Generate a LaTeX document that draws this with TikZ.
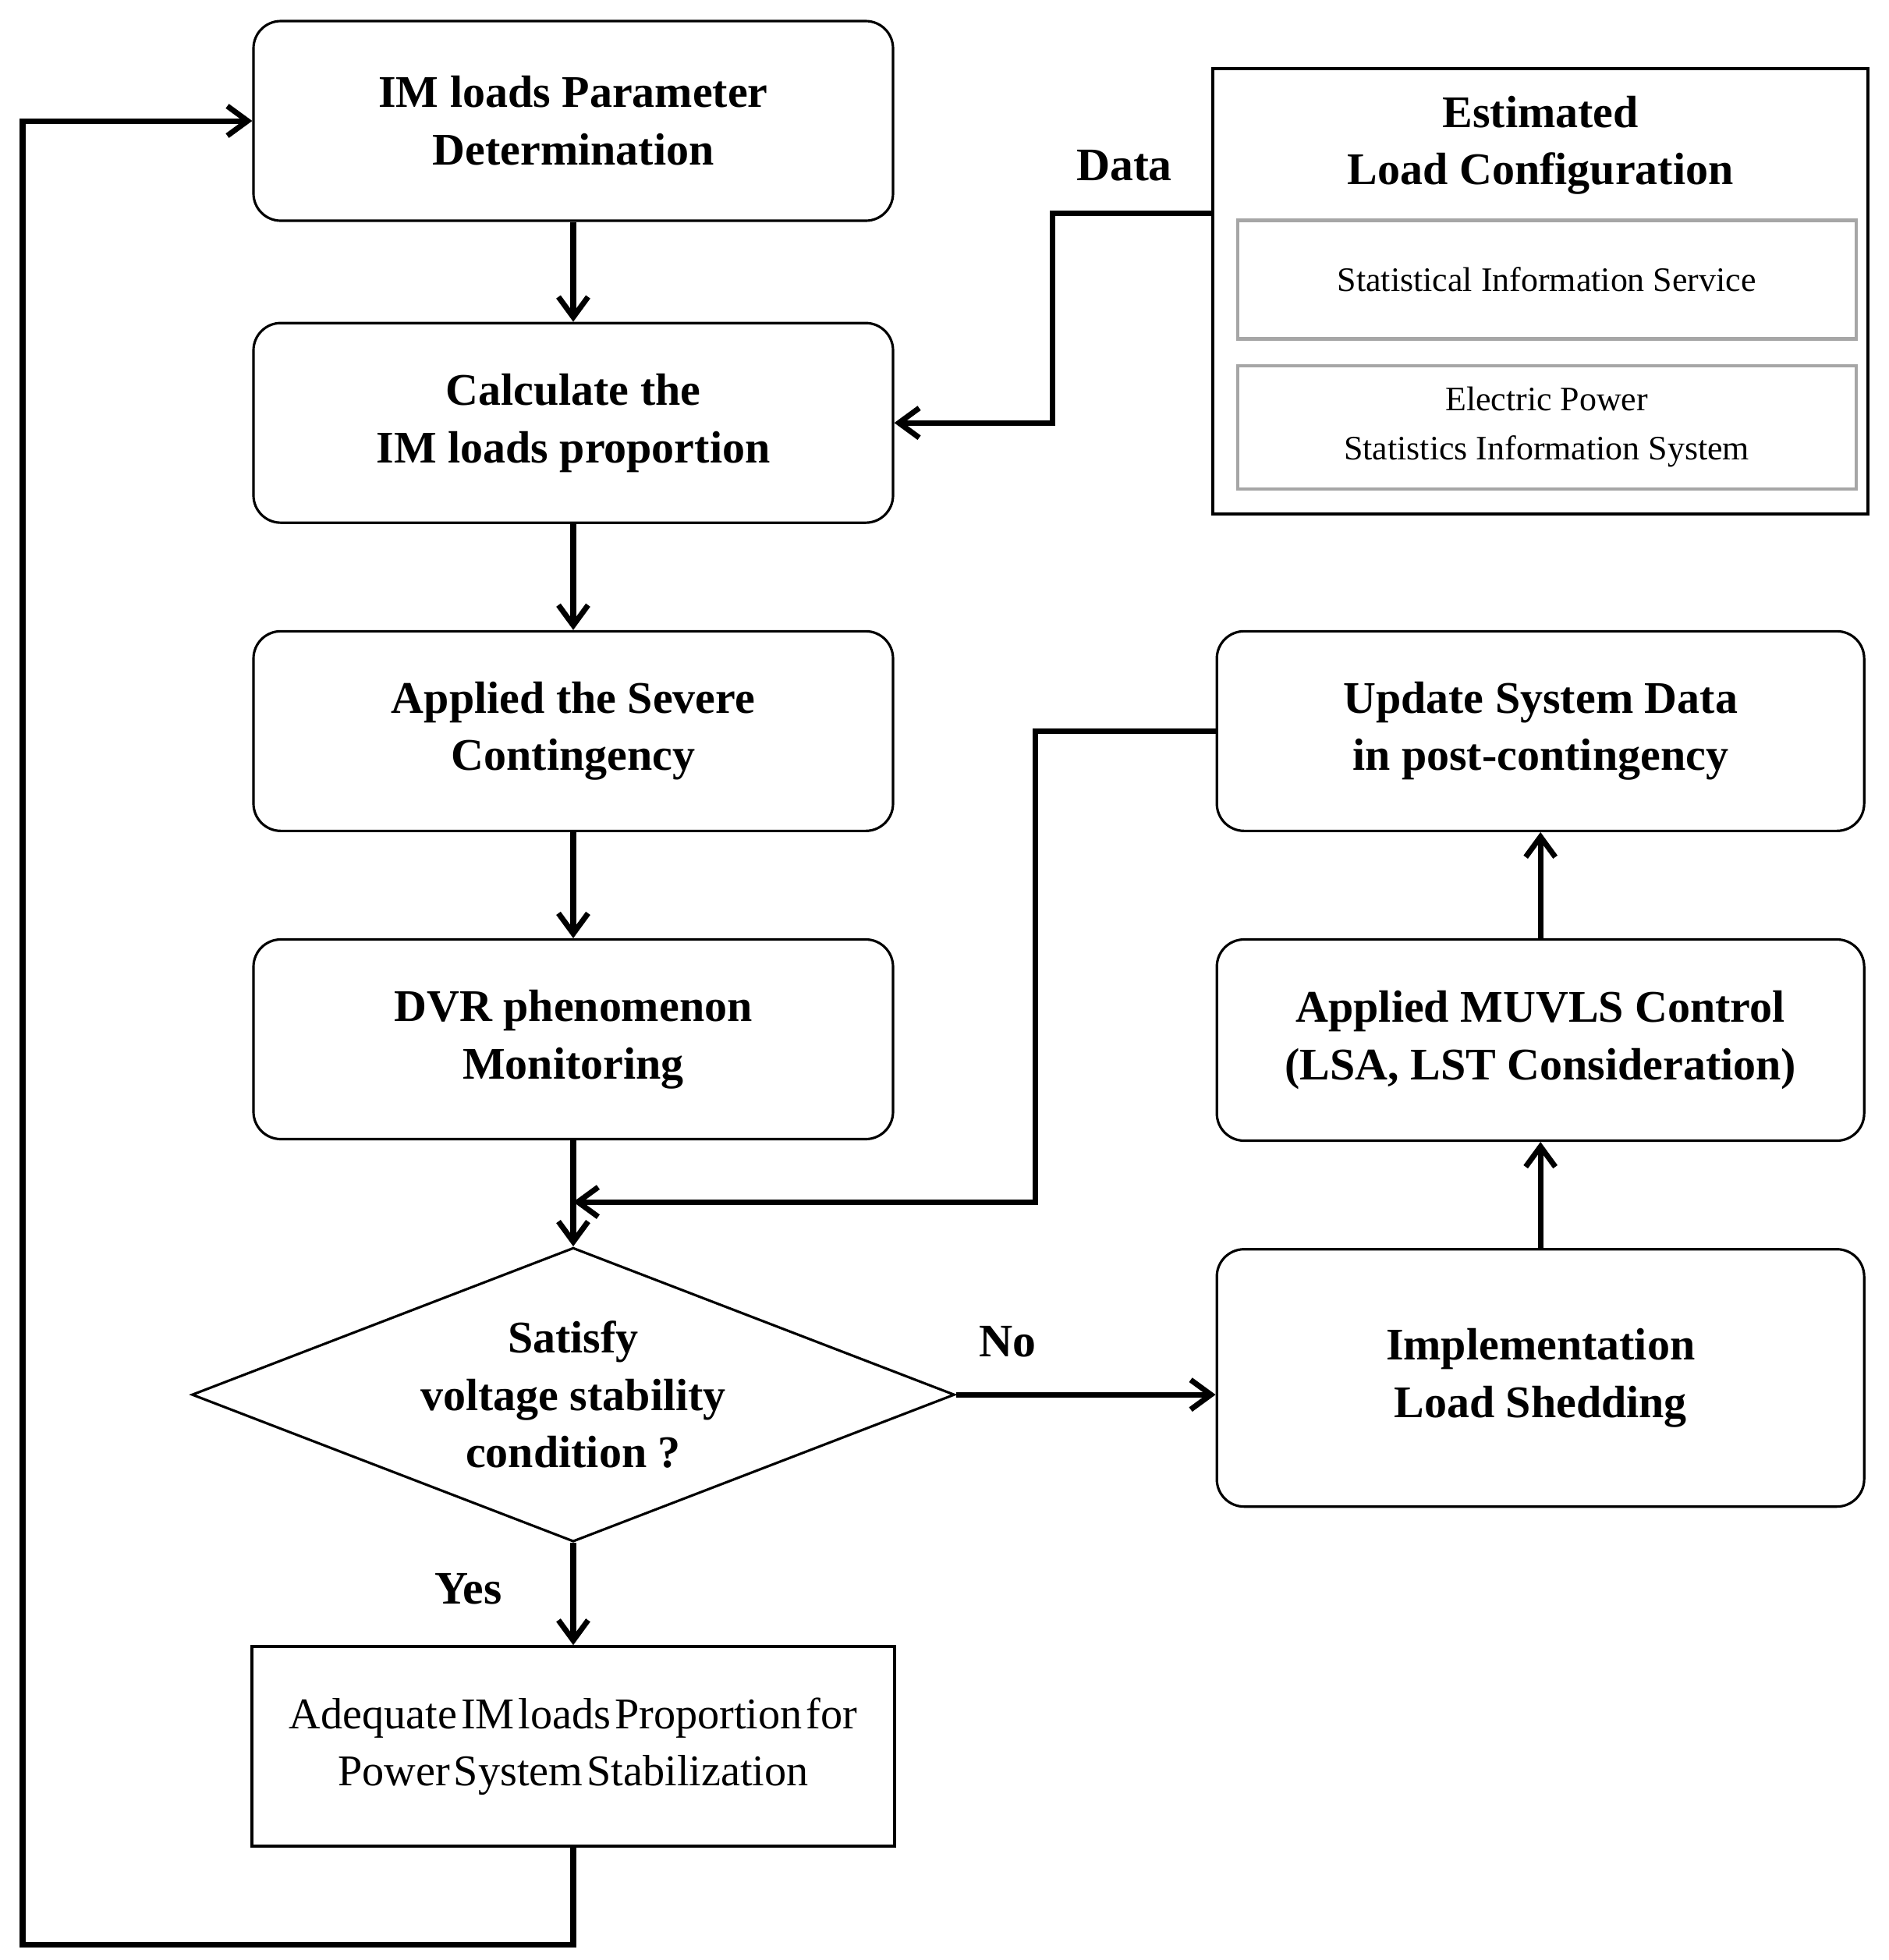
\documentclass[tikz,border=0pt]{standalone}
\usepackage{fontspec}
\setmainfont{Liberation Serif}
\newfontfamily\tightfont[WordSpace=0.35]{Liberation Serif}
\usepackage{tikz}
\usetikzlibrary{shapes.geometric, arrows.meta, positioning}
\definecolor{infogray}{HTML}{A6A6A6}
\tikzset{
  proc/.style={rectangle, rounded corners=0.35cm, draw, line width=0.9pt, align=center, font={\fontsize{16.5}{21}\selectfont\bfseries}, minimum width=8.2cm, minimum height=2.56cm},
  result/.style={rectangle, draw, line width=1.1pt, align=center, font={\fontsize{16}{21}\selectfont\tightfont}, minimum width=8.24cm, minimum height=2.56cm},
  cond/.style={diamond, draw, line width=0.9pt, align=center, font={\fontsize{16.5}{21}\selectfont\bfseries}, inner sep=0pt, shape aspect=2.6, minimum width=9.78cm, minimum height=3.77cm},
  src/.style={rectangle, draw, line width=1pt, minimum width=8.4cm, minimum height=5.71cm},
  srctitle/.style={align=center, inner sep=0pt, font={\fontsize{16.5}{21}\selectfont\bfseries}},
  info/.style={rectangle, draw=infogray, line width=1.2pt, align=center, font={\fontsize{12.5}{18}\selectfont}, minimum width=7.93cm},
  arr/.style={-{Straight Barb[length=2.6mm, width=3.8mm]}, line width=2pt},
  lbl/.style={inner sep=0pt, font={\fontsize{17}{21}\selectfont\bfseries}},
}
\begin{document}
\begin{tikzpicture}[node distance=1.36cm]
\useasboundingbox (0,0) rectangle (24.22,-25.13);
\node[proc] (b1) at (7.35,-1.55) {IM loads Parameter\\Determination};
\node[proc, below=1.28cm of b1] (b2) {Calculate the\\IM loads proportion};
\node[proc, below=of b2] (b3) {Applied the Severe\\Contingency};
\node[proc, below=of b3] (b4) {DVR phenomenon\\Monitoring};
\node[cond, below=of b4] (dec) {Satisfy\\voltage stability\\condition ?};
\node[result, below=1.31cm of dec] (b5) {Adequate IM loads Proportion for\\Power System Stabilization};
\node[proc, minimum width=8.3cm, right=4.12cm of b3] (upd) {Update System Data\\in post-contingency};
\node[proc, minimum width=8.3cm, minimum height=2.58cm, below=of upd] (muv) {Applied MUVLS Control\\(LSA, LST Consideration)};
\node[proc, minimum width=8.3cm, minimum height=3.3cm, below=of muv] (imp) {Implementation\\Load Shedding};
\node[src, above=1.47cm of upd] (est) {};
\node[srctitle, below=0.36cm of est.north] (esttitle) {Estimated\\Load Configuration};
\node[info, minimum height=1.52cm, below=0.30cm of esttitle, xshift=0.08cm] (sis) {Statistical Information Service};
\node[info, minimum height=1.58cm, below=0.30cm of sis] (eps) {Electric Power\\Statistics Information System};
\coordinate (join) at ([yshift=-0.79cm]b4.south);
\coordinate (loop) at (0.29,-24.93);
\draw[arr](b1)--(b2);\draw[arr](b2)--(b3);\draw[arr](b3)--(b4);\draw[arr](b4)--(dec);
\draw[arr](dec)--(b5) node[lbl, pos=0.45, left=0.88cm]{Yes};
\draw[arr](dec.east)--(dec.east -| imp.west) node[lbl, pos=0.2, above=0.45cm]{No};
\draw[arr](imp)--(muv);\draw[arr](muv)--(upd);
\draw[arr]([yshift=1cm]est.west)--++(-2.04,0) node[lbl, midway, above=0.38cm, xshift=-0.1cm]{Data} |- (b2.east);
\draw[arr](upd.west)--++(-2.31,0) |- (join);
\draw[arr](b5.south) |- (loop) |- (b1.west);
\end{tikzpicture}
\end{document}
